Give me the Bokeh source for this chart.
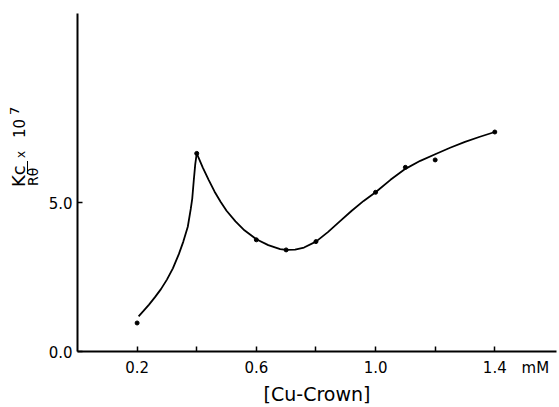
from bokeh.plotting import figure
from bokeh.layouts import row
from bokeh.models import FixedTicker, PrintfTickFormatter, Div
from bokeh.embed import file_html
from bokeh.resources import INLINE

# measured points
conc = [0.2, 0.4, 0.6, 0.7, 0.8, 1.0, 1.1, 1.2, 1.4]
kc_r = [0.96, 6.67, 3.76, 3.42, 3.70, 5.36, 6.2, 6.45, 7.39]

# drawn curve, rising branch
rise_x = [0.205, 0.22, 0.24, 0.26, 0.28, 0.30, 0.32, 0.34, 0.355, 0.37, 0.38, 0.385, 0.39, 0.395, 0.40]
rise_y = [1.18, 1.35, 1.58, 1.83, 2.10, 2.42, 2.80, 3.28, 3.70, 4.20, 4.80, 5.15, 5.75, 6.30, 6.67]

# drawn curve, second branch
fall_x = [0.40, 0.405, 0.42, 0.44, 0.46, 0.48, 0.50, 0.53, 0.56, 0.60, 0.64, 0.68, 0.70, 0.73,
          0.76, 0.80, 0.84, 0.88, 0.92, 0.96, 1.00, 1.05, 1.10, 1.15, 1.20, 1.25, 1.30, 1.35, 1.40]
fall_y = [6.67, 6.55, 6.20, 5.78, 5.38, 5.04, 4.74, 4.38, 4.08, 3.78, 3.58, 3.45, 3.42, 3.43,
          3.50, 3.70, 4.02, 4.38, 4.74, 5.07, 5.36, 5.78, 6.15, 6.42, 6.64, 6.86, 7.06, 7.23, 7.39]

x_labelled = [0.2, 0.6, 1.0, 1.4]
x_tickmarks = [0.2, 0.4, 0.6, 0.8, 1.0, 1.2, 1.4]
unit_pos = 1.536
y_major = [0, 5]

X_MAX, Y_MAX = 1.607, 11.38
FONT = "DejaVu Sans"
W, H = 559, 407
LEFT_W = 45
FRAME_TOP, FRAME_BOTTOM = 13, 352

p = figure(width=W - LEFT_W, height=H, output_backend="svg", toolbar_location=None,
           x_range=(0, X_MAX), y_range=(0, Y_MAX),
           min_border_left=77 - LEFT_W, min_border_top=FRAME_TOP, min_border_bottom=H - FRAME_BOTTOM,
           min_border_right=3)
p.outline_line_color = None
p.xgrid.visible = False
p.ygrid.visible = False
p.background_fill_color = "white"
p.border_fill_color = "white"

for ax in (p.xaxis[0], p.yaxis[0]):
    ax.axis_line_width = 2
    ax.axis_line_color = "black"
    ax.major_tick_line_width = 1.5
    ax.minor_tick_line_width = 1.5
    ax.major_label_text_font = FONT
    ax.major_label_text_font_size = "15px"
    ax.major_label_text_color = "black"
    ax.formatter = PrintfTickFormatter(format="%.1f")

xa = p.xaxis[0]
xa.ticker = FixedTicker(ticks=x_labelled + [unit_pos], minor_ticks=x_tickmarks)
xa.major_label_overrides = {unit_pos: "mM"}
xa.major_tick_in = 0
xa.major_tick_out = 0
xa.minor_tick_in = 5
xa.minor_tick_out = 0
xa.major_label_standoff = 7
xa.axis_label = "[Cu-Crown]"
xa.axis_label_text_font = FONT
xa.axis_label_text_font_size = "19px"
xa.axis_label_text_font_style = "normal"
xa.axis_label_text_color = "black"
xa.axis_label_standoff = 3

ya = p.yaxis[0]
ya.ticker = FixedTicker(ticks=y_major, minor_ticks=[])
ya.major_tick_in = 5
ya.major_tick_out = 0
ya.major_label_standoff = 5

p.line(rise_x, rise_y, line_color="black", line_width=1.8)
p.line(fall_x, fall_y, line_color="black", line_width=1.8)
p.scatter(conc, kc_r, size=4, color="black")

# composite rotated y title (Kc / R-theta x 10^7) as HTML text in a narrow strip
def rot(text, baseline_x, start_y, size):
    left = baseline_x - 0.846 * size
    return ('<span style="position:absolute;left:%.1fpx;top:%.1fpx;transform-origin:0 0;'
            'transform:rotate(-90deg);font-family:\'%s\';font-size:%dpx;line-height:%dpx;'
            'white-space:nowrap;color:black;">%s</span>' % (left, start_y, FONT, size, size, text))

pieces = [
    rot("Kc", 25, 187, 18),
    '<div style="position:absolute;left:26.8px;top:161px;width:1.5px;height:13px;background:black;"></div>',
    rot("R\u03b8", 38, 186, 14),
    rot("x", 25, 158, 12),
    rot("10", 26, 138, 15),
    rot("7", 18.5, 115, 13),
]
html = ('<div style="position:relative;width:%dpx;height:%dpx;background:white;">%s</div>'
        % (LEFT_W, H, "".join(pieces)))
title_strip = Div(text=html, width=LEFT_W, height=H, margin=0)

layout = row(title_strip, p)
open("out.html", "w").write(file_html(layout, INLINE))
